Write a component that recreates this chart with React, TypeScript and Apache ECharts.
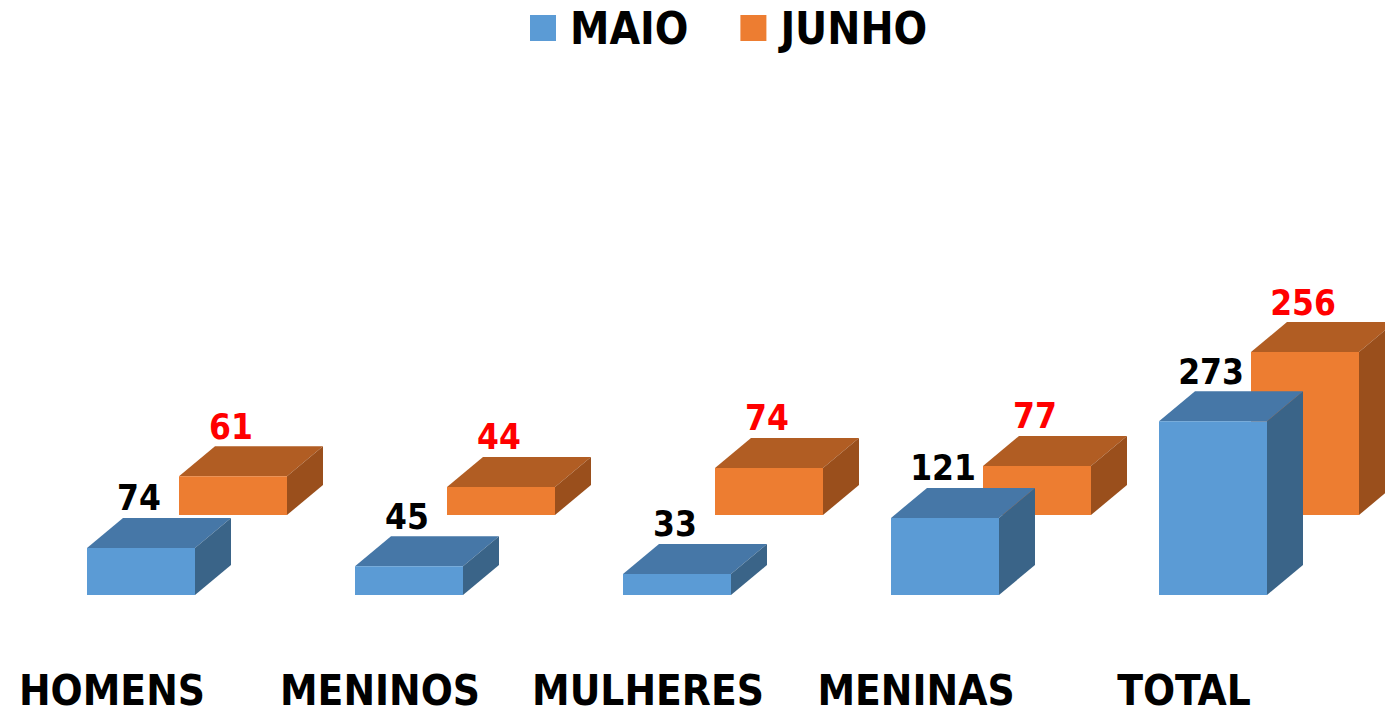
import React, { useEffect, useRef } from "react";
import * as echarts from "echarts";

const categories = ["HOMENS", "MENINOS", "MULHERES", "MENINAS", "TOTAL"];
const maio = [74, 45, 33, 121, 273];
const junho = [61, 44, 74, 77, 256];

const FONT = "'Liberation Sans Narrow', 'DejaVu Sans Condensed', sans-serif";

const palette = {
  MAIO: { front: "#5B9BD5", top: "#4677A7", side: "#3A6488", label: "#000000" },
  JUNHO: { front: "#ED7D31", top: "#B15D23", side: "#9A4F1C", label: "#FF0000" },
};

function makeRender(name: "MAIO" | "JUNHO", back: boolean) {
  const c = palette[name];
  return (params: any, api: any) => {
    const ci = api.value(0);
    const v = api.value(1);
    const band = api.size([1, 0])[0];
    const base = api.coord([ci, 0]);
    const top = api.coord([ci, v]);
    const bw = band * (108 / 268);
    const offX = back ? band * (92 / 268) : 0;
    const offY = back ? -80 : 0;
    const dx = bw * (36 / 108);
    const dy = -30;
    const x0 = base[0] - bw / 2 + offX;
    const x1 = x0 + bw;
    const yb = base[1] + offY;
    const yt = top[1] + offY;
    return {
      type: "group",
      children: [
        {
          type: "polygon",
          shape: { points: [[x0, yt], [x1, yt], [x1 + dx, yt + dy], [x0 + dx, yt + dy]] },
          style: { fill: c.top },
        },
        {
          type: "polygon",
          shape: { points: [[x1, yt], [x1 + dx, yt + dy], [x1 + dx, yb + dy], [x1, yb]] },
          style: { fill: c.side },
        },
        {
          type: "rect",
          shape: { x: x0, y: yt, width: bw, height: yb - yt },
          style: { fill: c.front },
        },
        {
          type: "text",
          style: {
            x: (x0 + x1) / 2 - 2,
            y: yt + dy - 2,
            text: String(v),
            fill: c.label,
            font: `bold 35px ${FONT}`,
            align: "center",
            verticalAlign: "bottom",
          },
        },
      ],
    };
  };
}

export default function App() {
  const ref = useRef<HTMLDivElement>(null);
  useEffect(() => {
    document.body.style.margin = "0";
    const chart = echarts.init(ref.current!, undefined, { renderer: "svg" });
    chart.setOption({
      animation: false,
      backgroundColor: "#ffffff",
      legend: {
        data: ["MAIO", "JUNHO"],
        left: 525,
        top: 1,
        icon: "rect",
        itemWidth: 26,
        itemHeight: 26,
        itemGap: 52,
        textStyle: {
          fontFamily: FONT,
          fontWeight: "bold",
          fontSize: 44,
          color: "#000",
          padding: [0, 0, 0, 9],
        },
      },
      grid: { left: 7, right: 38, top: 404, bottom: 118 },
      xAxis: {
        type: "category",
        data: categories,
        axisLine: { show: false },
        axisTick: { show: false },
        splitLine: { show: false },
        axisLabel: {
          margin: 74,
          fontFamily: FONT,
          fontWeight: "bold",
          fontSize: 42,
          color: "#000",
          padding: [0, 58, 0, 0],
          interval: 0,
        },
      },
      yAxis: { type: "value", min: 0, max: 300, show: false, splitLine: { show: false } },
      series: [
        {
          name: "JUNHO",
          type: "custom",
          color: palette.JUNHO.front,
          itemStyle: { color: palette.JUNHO.front },
          renderItem: makeRender("JUNHO", true),
          data: junho.map((v, i) => [i, v]),
          encode: { x: 0, y: 1 },
        },
        {
          name: "MAIO",
          type: "custom",
          color: palette.MAIO.front,
          itemStyle: { color: palette.MAIO.front },
          renderItem: makeRender("MAIO", false),
          data: maio.map((v, i) => [i, v]),
          encode: { x: 0, y: 1 },
        },
      ],
    });
    return () => chart.dispose();
  }, []);
  return <div ref={ref} style={{ width: 1385, height: 713 }} />;
}
